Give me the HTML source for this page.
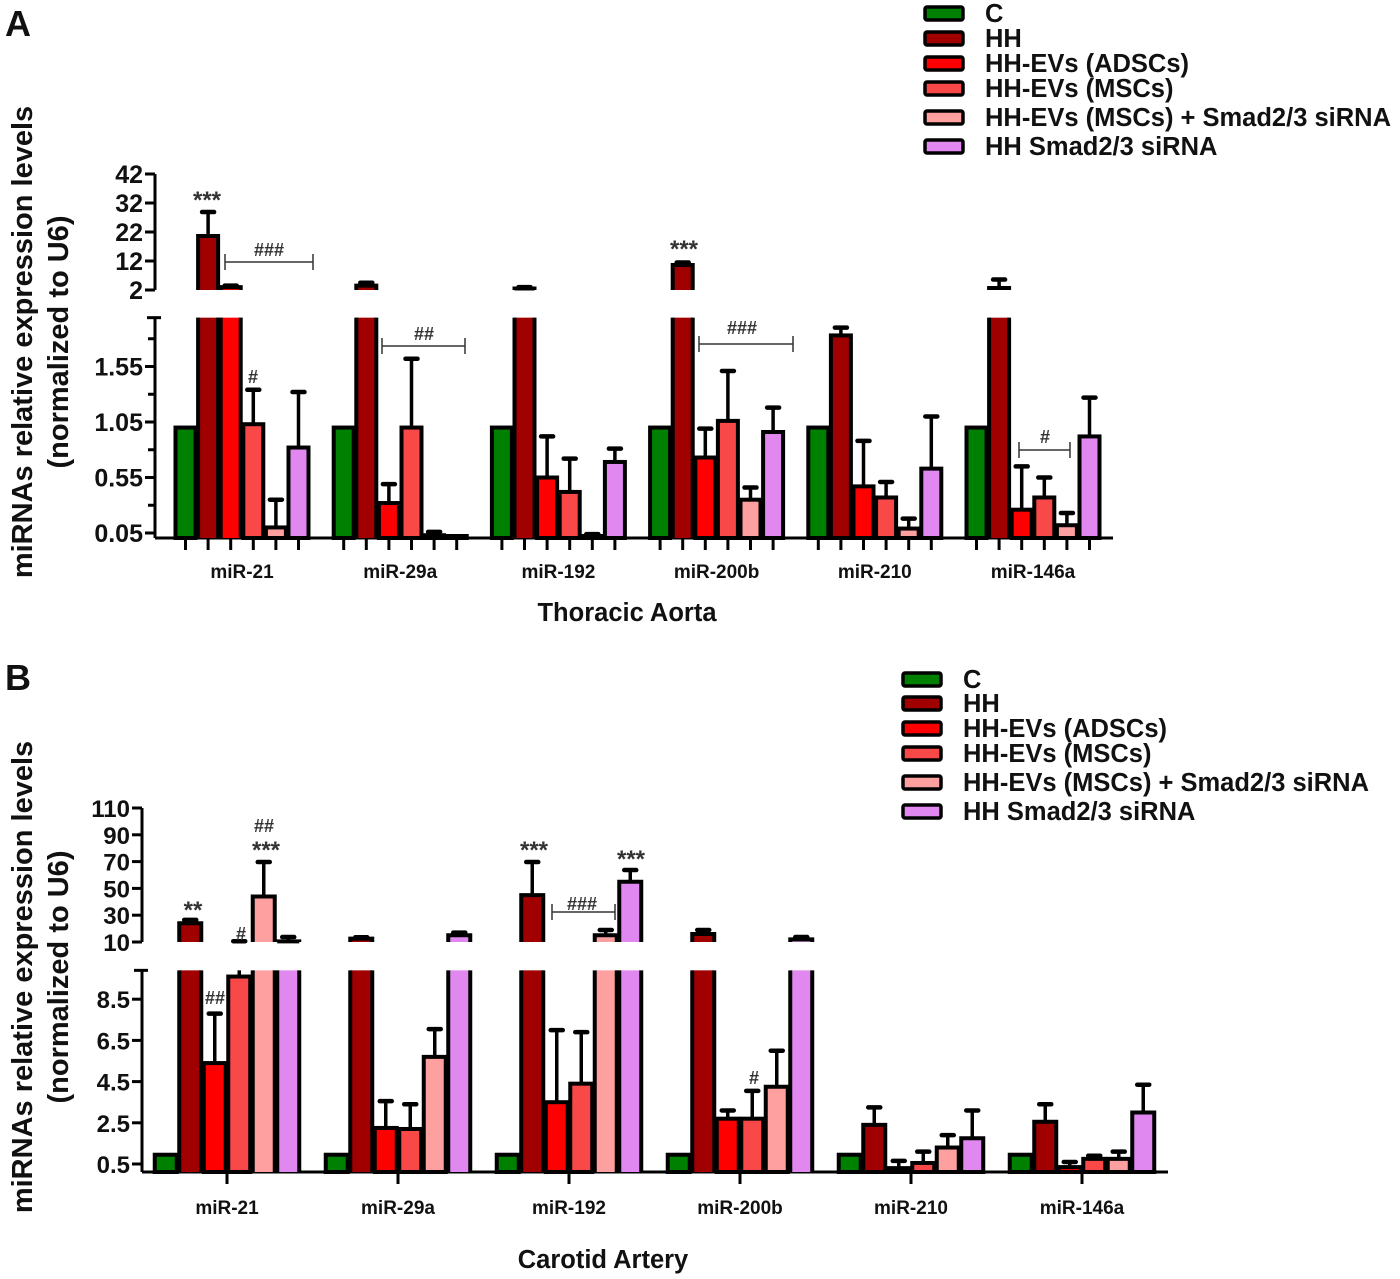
<!DOCTYPE html>
<html><head><meta charset="utf-8"><style>
body{margin:0;background:#fff}
svg{display:block;font-family:"Liberation Sans",Arial,sans-serif}
</style></head><body>
<svg id="chart" width="1400" height="1279" viewBox="0 0 1400 1279"></svg>
<script>
const categories = ["miR-21","miR-29a","miR-192","miR-200b","miR-210","miR-146a"];
const seriesNames = ["C","HH","HH-EVs (ADSCs)","HH-EVs (MSCs)","HH-EVs (MSCs) + Smad2/3 siRNA","HH Smad2/3 siRNA"];
const seriesColors = ["#008000","#a00000","#ff0000","#f84848","#ffa0a0","#e088f0"];
// Panel A (Thoracic Aorta) means and mean+SEM tops
const aC   = [1.0, 1.0, 1.0, 1.0, 1.0, 1.0];
const aHH  = [20.6, 3.5, 2.5, 10.6, 1.83, 2.7];
const aADS = [3.0, 0.32, 0.55, 0.73, 0.47, 0.26];
const aMSC = [1.03, 1.0, 0.42, 1.06, 0.37, 0.37];
const aSi  = [0.1, 0.03, 0.02, 0.35, 0.09, 0.12];
const aHSi = [0.82, 0.01, 0.69, 0.96, 0.63, 0.92];
const aErrC   = [1.0, 1.0, 1.0, 1.0, 1.0, 1.0];
const aErrHH  = [28.9, 4.5, 3.0, 11.5, 1.9, 5.6];
const aErrADS = [3.5, 0.49, 0.92, 0.99, 0.88, 0.65];
const aErrMSC = [1.34, 1.62, 0.72, 1.51, 0.51, 0.55];
const aErrSi  = [0.35, 0.06, 0.04, 0.46, 0.18, 0.23];
const aErrHSi = [1.32, 0.02, 0.81, 1.18, 1.1, 1.27];
// Panel B (Carotid Artery)
const bC   = [0.95, 0.95, 0.95, 0.95, 0.95, 0.95];
const bHH  = [24, 12.5, 45, 16, 2.4, 2.55];
const bADS = [5.4, 2.25, 3.5, 2.7, 0.3, 0.35];
const bMSC = [9.6, 2.2, 4.4, 2.7, 0.55, 0.75];
const bSi  = [44, 5.7, 15, 4.25, 1.3, 0.75];
const bHSi = [10.5, 15, 55, 12, 1.75, 3.0];
const bErrC   = [0.95, 0.95, 0.95, 0.95, 0.95, 0.95];
const bErrHH  = [26.5, 13.5, 69.7, 19, 3.25, 3.4];
const bErrADS = [7.8, 3.55, 7.0, 3.1, 0.65, 0.6];
const bErrMSC = [10.6, 3.4, 6.9, 4.05, 1.1, 0.9];
const bErrSi  = [69.7, 7.05, 19, 6.0, 1.9, 1.1];
const bErrHSi = [13.7, 17, 63.7, 13.7, 3.1, 4.35];
const aUpperTicks = ["2","12","22","32","42"];
const aLowerTicks = ["0.05","0.55","1.05","1.55"];
const bUpperTicks = ["10","30","50","70","90","110"];
const bLowerTicks = ["0.5","2.5","4.5","6.5","8.5"];

const NS="http://www.w3.org/2000/svg";
const svg=document.getElementById('chart');
function mk(tag,attrs,parent){const e=document.createElementNS(NS,tag);for(const k in attrs)e.setAttribute(k,attrs[k]);(parent||svg).appendChild(e);return e;}
function txt(s,x,y,size,anchor,parent,extra){const t=mk('text',Object.assign({x:x,y:y,'font-size':size,'font-weight':'bold','text-anchor':anchor||'start',fill:'#111'},extra||{}),parent);t.textContent=s;return t;}

function panel(cfg){
  const g=mk('g',{});
  
  
  const yLow=v=>cfg.lowRef-(v-cfg.lowV0)*cfg.lowK;
  const yUp=v=>cfg.upBase-(v-cfg.upMin)*cfg.upK;
  const yAny=v=>v<=cfg.lowMax?yLow(v):yUp(v);
  const SW=4;
  const ax=mk('g',{},g);
  
  
  mk('line',{x1:cfg.axX,y1:yUp(cfg.upTop),x2:cfg.axX,y2:cfg.upBase,stroke:'#000','stroke-width':3},ax);
  mk('line',{x1:cfg.axX,y1:yLow(cfg.lowMax),x2:cfg.axX,y2:cfg.base,stroke:'#000','stroke-width':3},ax);
  mk('line',{x1:cfg.axX-8,y1:yLow(cfg.lowMax),x2:cfg.axX+6,y2:yLow(cfg.lowMax),stroke:'#000','stroke-width':3},ax);
  cfg.upTicks.forEach(s=>{const y=yUp(+s);mk('line',{x1:cfg.axX-10,y1:y,x2:cfg.axX,y2:y,stroke:'#000','stroke-width':3},ax);
    const t=txt(s,cfg.axX-12,y+9,cfg.tickSize,'end',ax);});
  cfg.lowTicks.forEach(s=>{const y=yLow(+s);mk('line',{x1:cfg.axX-10,y1:y,x2:cfg.axX,y2:y,stroke:'#000','stroke-width':3},ax);
    const t=txt(s,cfg.axX-12,y+9,cfg.tickSize,'end',ax);});
  (cfg.minor||[]).forEach(v=>{const y=yLow(v);mk('line',{x1:cfg.axX-7,y1:y,x2:cfg.axX,y2:y,stroke:'#000','stroke-width':3},ax);});
  mk('line',{x1:cfg.axX,y1:cfg.base,x2:cfg.axEnd,y2:cfg.base,stroke:'#000','stroke-width':3},ax);
  categories.forEach((c,i)=>{
    const gc=cfg.g0+i*cfg.gStep;
    const lab=txt(c,gc,cfg.catY,19,'middle',g);
    
    
    if(cfg.groupTick){mk('line',{x1:gc,y1:cfg.base,x2:gc,y2:cfg.base+12,stroke:'#000','stroke-width':3},g);}
    cfg.vals.forEach((arr,j)=>{
      const v=arr[i],e=cfg.errs[j][i];
      const cx=gc+(j-2.5)*cfg.bStep,x=cx-cfg.bw/2;
      if(!cfg.groupTick){mk('line',{x1:cx,y1:cfg.base,x2:cx,y2:cfg.base+12,stroke:'#000','stroke-width':3},g);}
      const bg=mk('g',{},g);
      
      
      if(e>v){
        if(v<=cfg.lowMax && e>cfg.lowMax){
          mk('line',{x1:cx,y1:yLow(v),x2:cx,y2:yLow(cfg.lowMax),stroke:'#000','stroke-width':3.5},bg);
          mk('line',{x1:cx,y1:cfg.upBase,x2:cx,y2:yUp(e),stroke:'#000','stroke-width':3.5},bg);
        } else mk('line',{x1:cx,y1:yAny(v),x2:cx,y2:yAny(e),stroke:'#000','stroke-width':3.5},bg);
        mk('line',{x1:cx-6,y1:yAny(e),x2:cx+6,y2:yAny(e),stroke:'#000','stroke-width':4.5,'stroke-linecap':'round'},bg);
      }
      if(v<=cfg.lowMax){
        const y=Math.min(yLow(v),cfg.base-2);
        mk('rect',{x:x,y:y,width:cfg.bw,height:cfg.base-y,fill:seriesColors[j],stroke:'#000','stroke-width':SW},bg);
      } else {
        const yt=yLow(cfg.lowMax);
        mk('rect',{x:x,y:yt,width:cfg.bw,height:cfg.base-yt,fill:seriesColors[j]},bg);
        mk('line',{x1:x,y1:yt,x2:x,y2:cfg.base,stroke:'#000','stroke-width':SW},bg);
        mk('line',{x1:x+cfg.bw,y1:yt,x2:x+cfg.bw,y2:cfg.base,stroke:'#000','stroke-width':SW},bg);
        const yu=yUp(v);
        mk('rect',{x:x,y:yu,width:cfg.bw,height:Math.max(cfg.upBase-yu,1),fill:seriesColors[j]},bg);
        mk('path',{d:`M${x},${cfg.upBase}V${yu}H${x+cfg.bw}V${cfg.upBase}`,fill:'none',stroke:'#000','stroke-width':SW},bg);
      }
    });
  });
  const lg=mk('g',{},g);
  
  
  seriesNames.forEach((s,j)=>{
    const y=cfg.legY[j];
    const en=mk('g',{},lg);
    
    
    mk('rect',{x:cfg.legX,y:y-6,width:38,height:13,rx:2,fill:seriesColors[j],stroke:'#000','stroke-width':3.5},en);
    txt(s,cfg.legX+60,y+9,25.5,'start',en);
  });
  const pl=txt(cfg.letter,5,cfg.letterY,36,'start',g);
  
  
  const yt=mk('text',{transform:`translate(${cfg.yTitleX},${cfg.yTitleY}) rotate(-90)`,'font-size':29,'font-weight':'bold','text-anchor':'middle',fill:'#111'},g);
  
  
  const t1=mk('tspan',{x:0,y:0},yt);t1.textContent='miRNAs relative expression levels';
  const t2=mk('tspan',{x:0,y:36},yt);t2.textContent='(normalized to U6)';
  const xt=txt(cfg.xTitle,cfg.xTitleX,cfg.xTitleY,25.5,'middle',g);
  
  
  return {g,yLow,yUp,yAny};
}
function ann(s,x,y,size,name,parent){const t=txt(s,x,y,size||20,'middle',parent,{fill:'#333'});return t;}
function bracket(x1,x2,y,parent){const b=mk('path',{d:`M${x1},${y-8}V${y+8}M${x1},${y}H${x2}M${x2},${y-8}V${y+8}`,stroke:'#333','stroke-width':1.5,fill:'none'},parent);}

const A=panel({name:'panel-a',letter:'A',letterY:36,axX:155,axEnd:1113,base:538,lowRef:533,lowV0:0.05,lowK:111,lowMax:1.99,
  upBase:290,upMin:2,upK:2.9,upTop:42,upTicks:aUpperTicks,lowTicks:aLowerTicks,minor:[0.3,0.8,1.3,1.8],tickSize:25,
  g0:242,gStep:158.2,bStep:22.6,bw:20,catY:578,groupTick:false,
  vals:[aC,aHH,aADS,aMSC,aSi,aHSi],errs:[aErrC,aErrHH,aErrADS,aErrMSC,aErrSi,aErrHSi],
  legX:925,legY:[13,38,63,88,117,146],yTitleX:32,yTitleY:342,xTitle:'Thoracic Aorta',xTitleX:627,xTitleY:621});
ann('***',207,208,24,'significance-stars',A.g);
bracket(225,313,262,A.g);ann('###',269,256,18,'significance-hash',A.g);
ann('#',253,383,18,'significance-hash',A.g);
bracket(382,465,346,A.g);ann('##',424,340,18,'significance-hash',A.g);
ann('***',684,257,24,'significance-stars',A.g);
bracket(699,793,344,A.g);ann('###',742,334,18,'significance-hash',A.g);
bracket(1019,1070,450,A.g);ann('#',1045,443,18,'significance-hash',A.g);

const B=panel({name:'panel-b',letter:'B',letterY:690,axX:142,axEnd:1168,base:1172,lowRef:1164,lowV0:0.5,lowK:20.6,lowMax:9.9,
  upBase:942,upMin:10,upK:1.34,upTop:110,upTicks:bUpperTicks,lowTicks:bLowerTicks,tickSize:24,
  g0:227,gStep:171,bStep:24.5,bw:22,catY:1214,groupTick:true,
  vals:[bC,bHH,bADS,bMSC,bSi,bHSi],errs:[bErrC,bErrHH,bErrADS,bErrMSC,bErrSi,bErrHSi],
  legX:903,legY:[679,703,728,753,782,811],yTitleX:32,yTitleY:977,xTitle:'Carotid Artery',xTitleX:603,xTitleY:1268});
ann('**',193,918,24,'significance-stars',B.g);
ann('#',241,940,18,'significance-hash',B.g);
ann('***',266,858,24,'significance-stars',B.g);
ann('##',264,832,18,'significance-hash',B.g);
ann('##',215,1004,18,'significance-hash',B.g);
ann('***',534,858,24,'significance-stars',B.g);
bracket(552,615,912,B.g);ann('###',582,910,18,'significance-hash',B.g);
ann('***',631,867,24,'significance-stars',B.g);
ann('#',754,1084,18,'significance-hash',B.g);
</script>
</body></html>
